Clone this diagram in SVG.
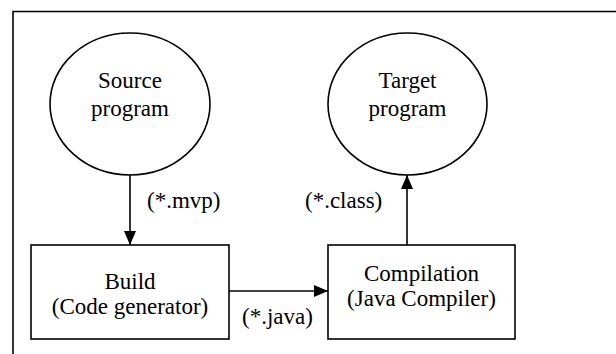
<svg xmlns="http://www.w3.org/2000/svg" width="616" height="354" viewBox="0 0 616 354">
  <defs>
    <style>
      .shape { fill: #fff; stroke: #000; stroke-width: 1.6; }
      .line { fill: none; stroke: #000; stroke-width: 1.6; }
      .txt { font-family: "Liberation Serif", "Times New Roman", serif; font-size: 23px; fill: #000; }
      .mid { text-anchor: middle; }
    </style>
    <marker id="arrow" viewBox="0 0 14 12" refX="14" refY="6" markerWidth="14" markerHeight="12" markerUnits="userSpaceOnUse" orient="auto">
      <path d="M0,0 L14,6 L0,12 Z" fill="#000"/>
    </marker>
  </defs>
  <rect width="616" height="354" fill="#fff"/>
  <!-- outer frame, open to the right and bottom -->
  <path class="line" d="M13,360 L13,11.5 L620,11.5"/>

  <g id="connectors">
    <line class="line" x1="130" y1="175" x2="130" y2="245" marker-end="url(#arrow)"/>
    <line class="line" x1="229" y1="291" x2="328" y2="291" marker-end="url(#arrow)"/>
    <line class="line" x1="407" y1="245" x2="407" y2="175" marker-end="url(#arrow)"/>
    <text class="txt" x="147" y="208">(*.mvp)</text>
    <text class="txt" x="305" y="208">(*.class)</text>
    <text class="txt" x="242" y="324">(*.java)</text>
  </g>

  <g id="source">
    <ellipse class="shape" cx="130" cy="104" rx="80" ry="71"/>
    <text class="txt mid" x="130" y="88">Source</text>
    <text class="txt mid" x="130" y="116">program</text>
  </g>

  <g id="target">
    <ellipse class="shape" cx="407.5" cy="104" rx="79.5" ry="71"/>
    <text class="txt mid" x="407.5" y="88">Target</text>
    <text class="txt mid" x="407.5" y="116">program</text>
  </g>

  <g id="build">
    <rect class="shape" x="31" y="245" width="198" height="94"/>
    <text class="txt mid" x="130" y="289">Build</text>
    <text class="txt mid" x="130" y="314">(Code generator)</text>
  </g>

  <g id="compilation">
    <rect class="shape" x="328" y="245" width="187" height="94"/>
    <text class="txt mid" x="421.5" y="281">Compilation</text>
    <text class="txt mid" x="421.5" y="306">(Java Compiler)</text>
  </g>
</svg>
